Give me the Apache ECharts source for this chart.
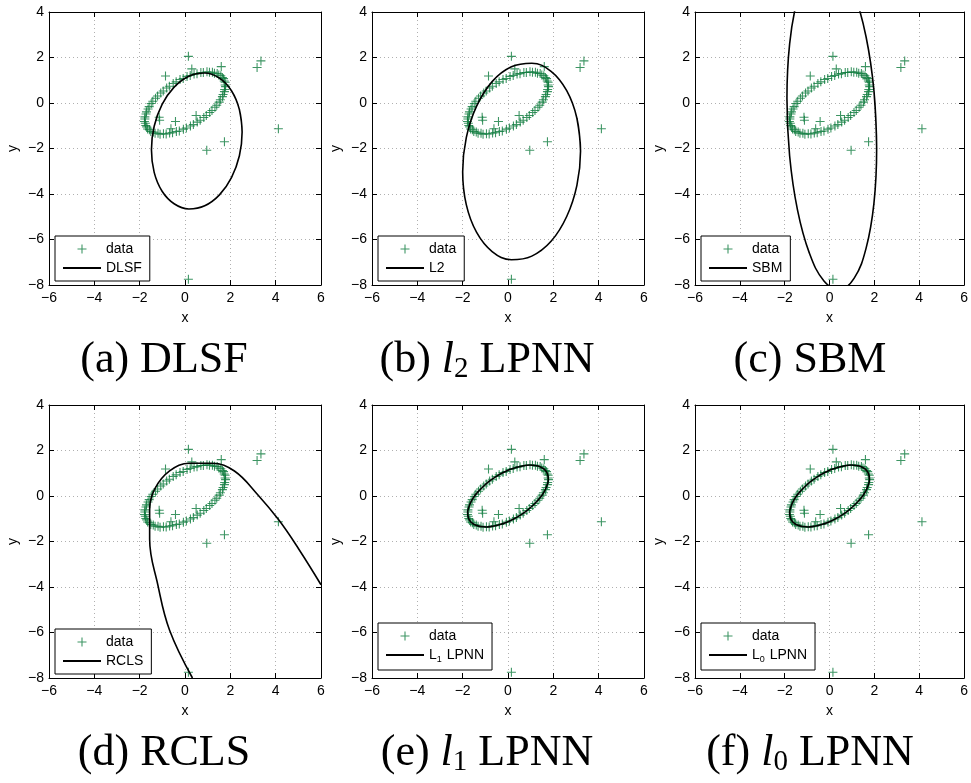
<!DOCTYPE html>
<html>
<head>
<meta charset="utf-8">
<script src="https://cdn.jsdelivr.net/npm/echarts@6/dist/echarts.min.js"></script>
<style>
  html, body { margin: 0; padding: 0; background: #fff; }
  #main { width: 971px; height: 783px; }
</style>
</head>
<body>
<div id="main"></div>
<script>
// points of the noisy ellipse (same data in all six panels)
var ringX = [1.70, 1.65, 1.58, 1.49, 1.42, 1.30, 1.21, 1.08, 0.97, 0.81, 0.70, 0.53, 0.40, 0.23, 0.09, -0.08, -0.22, -0.39,
  -0.52, -0.69, -0.81, -0.96, -1.07, -1.21, -1.30, -1.42, -1.49, -1.58, -1.63, -1.70, -1.72, -1.77, -1.77, -1.79, -1.75, -1.73,
  -1.69, -1.65, -1.57, -1.51, -1.40, -1.32, -1.19, -1.10, -0.95, -0.83, -0.68, -0.55, -0.38, -0.25, -0.07, 0.06, 0.24, 0.37,
  0.54, 0.67, 0.83, 0.94, 1.09, 1.19, 1.32, 1.40, 1.51, 1.56, 1.65, 1.68, 1.74, 1.75, 1.79, 1.77, 1.77, 1.73];
var ringY = [1.07, 1.12, 1.20, 1.23, 1.30, 1.31, 1.35, 1.35, 1.37, 1.34, 1.34, 1.29, 1.27, 1.21, 1.17, 1.08, 1.03, 0.93,
  0.86, 0.74, 0.66, 0.53, 0.44, 0.31, 0.21, 0.08, -0.02, -0.16, -0.26, -0.39, -0.48, -0.61, -0.70, -0.81, -0.89, -0.99,
  -1.05, -1.14, -1.18, -1.25, -1.28, -1.33, -1.33, -1.37, -1.35, -1.36, -1.32, -1.31, -1.25, -1.23, -1.15, -1.10, -1.01, -0.95,
  -0.84, -0.76, -0.64, -0.55, -0.42, -0.33, -0.19, -0.10, 0.04, 0.14, 0.28, 0.37, 0.50, 0.59, 0.72, 0.79, 0.91, 0.97];
// outliers
var outX = [0.15, 0.30, 1.60, 3.18, 3.35, 4.12, 1.74, 0.96, 0.15, -0.86, -1.14, -1.12, -0.42, 0.49, -0.62];
var outY = [2.05, 1.50, 1.60, 1.56, 1.85, -1.13, -1.70, -2.08, -7.75, 1.19, -0.63, -0.76, -0.81, -0.55, -1.13];

// fitted curves
var dlsfX = [2.52, 2.40, 2.05, 1.52, 0.87, 0.17, -0.48, -1.01, -1.36, -1.48, -1.36, -1.01, -0.48, 0.17, 0.87, 1.52, 2.05, 2.40, 2.52, 2.40];
var dlsfY = [-1.28, -0.29, 0.54, 1.09, 1.32, 1.18, 0.70, -0.06, -1.02, -2.06, -3.05, -3.88, -4.43, -4.66, -4.52, -4.04, -3.28, -2.32, -1.28, -0.29];
var l2X = [3.20, 3.04, 2.59, 1.90, 1.05, 0.15, -0.70, -1.39, -1.84, -2.00, -1.84, -1.39, -0.70, 0.15, 1.05, 1.90, 2.59, 3.04, 3.20, 3.04];
var l2Y = [-2.12, -0.67, 0.54, 1.39, 1.75, 1.59, 0.94, -0.15, -1.52, -3.02, -4.47, -5.68, -6.53, -6.89, -6.73, -6.08, -4.99, -3.62, -2.12, -0.67];
var sbmX = [2.10, 1.98, 1.63, 1.10, 0.45, -0.25, -0.90, -1.43, -1.78, -1.90, -1.78, -1.43, -0.90, -0.25, 0.45, 1.10, 1.63, 1.98, 2.10, 1.98];
var sbmY = [-2.00, 0.53, 2.90, 4.80, 6.02, 6.40, 5.90, 4.58, 2.60, 0.20, -2.33, -4.70, -6.60, -7.82, -8.20, -7.70, -6.38, -4.40, -2.00, 0.53];
var rclsX = [0.33, -0.68, -1.20, -1.56, -1.56, -1.34, -0.68, 0.20, 1.20, 2.18, 3.19, 4.15, 5.03, 6.00];
var rclsY = [-8.00, -5.90, -3.90, -1.90, -0.60, 0.30, 1.10, 1.44, 1.44, 1.10, 0.08, -1.07, -2.35, -3.90];
var lpnnX = [1.70, 1.58, 1.41, 1.20, 0.96, 0.69, 0.39, 0.08, -0.23, -0.53, -0.82, -1.08, -1.31, -1.50, -1.64, -1.73, -1.78, -1.76,
  -1.70, -1.58, -1.41, -1.20, -0.96, -0.69, -0.39, -0.08, 0.23, 0.53, 0.82, 1.08, 1.31, 1.50, 1.64, 1.73, 1.78, 1.76, 1.70, 1.58];
var lpnnY = [1.06, 1.19, 1.29, 1.34, 1.36, 1.33, 1.26, 1.16, 1.02, 0.85, 0.65, 0.43, 0.20, -0.03, -0.27, -0.49, -0.71, -0.90,
  -1.06, -1.19, -1.29, -1.34, -1.36, -1.33, -1.26, -1.16, -1.02, -0.85, -0.65, -0.43, -0.20, 0.03, 0.27, 0.49, 0.71, 0.90, 1.06, 1.19];

var fitNames = ['DLSF', 'L2', 'SBM', 'RCLS', 'L1 LPNN', 'L0 LPNN'];
var fitX = [dlsfX, l2X, sbmX, rclsX, lpnnX, lpnnX];
var fitY = [dlsfY, l2Y, sbmY, rclsY, lpnnY, lpnnY];
var captions = ['(a) DLSF', '(b) {i|l}{s|2} LPNN', '(c) SBM', '(d) RCLS', '(e) {i|l}{s|1} LPNN', '(f) {i|l}{s|0} LPNN'];

var colLeft = [49, 372, 695];
var rowTop = [12, 405];
var gw = 272, gh = 273;

var green = '#0c7a3c';
var plus = 'path://M0,4.4H10V5.6H0Z M4.4,0H5.6V10H4.4Z';
var dash = 'path://M0,0H40V2.3H0Z';
var sans = 'Liberation Sans';

function pairs(xs, ys) {
  return xs.map(function (x, i) { return [x, ys[i]]; });
}

function minus(v) { return String(v).replace('-', '\u2212'); }

function mkLine() { return { show: true, onZero: false, lineStyle: { color: '#000', width: 1 } }; }
function mkTick() { return { show: true, inside: true, length: 5, lineStyle: { color: '#000' } }; }
function mkLabel(m) { return { margin: m, color: '#000', fontFamily: sans, fontSize: 14, formatter: minus }; }
function mkSplit() { return { show: true, lineStyle: { color: '#b0b0b0', type: [1, 3], width: 1 } }; }
function mkName() { return { color: '#000', fontFamily: sans, fontSize: 14 }; }

function legendFmt(n) {
  var m = /^L(\d) (.*)$/.exec(n);
  return m ? '{t|L}{s|' + m[1] + '}{t| ' + m[2] + '}' : '{t|' + n + '}';
}

var grids = [], xAxes = [], yAxes = [], series = [], legends = [], graphics = [];

for (var i = 0; i < 6; i++) {
  var row = Math.floor(i / 3), col = i % 3;
  var gLeft = colLeft[col], gTop = rowTop[row];
  grids.push({ left: gLeft, top: gTop, width: gw, height: gh });

  xAxes.push({
    gridIndex: i, type: 'value', min: -6, max: 6, interval: 2, position: 'bottom',
    axisLine: mkLine(), axisTick: mkTick(), axisLabel: mkLabel(6), splitLine: mkSplit(),
    name: 'x', nameLocation: 'middle', nameGap: 26, nameTextStyle: mkName()
  });
  xAxes.push({
    gridIndex: i, type: 'value', min: -6, max: 6, interval: 2, position: 'top',
    axisLine: mkLine(), axisTick: mkTick(), axisLabel: { show: false }, splitLine: { show: false }
  });
  yAxes.push({
    gridIndex: i, type: 'value', min: -8, max: 4, interval: 2, position: 'left',
    axisLine: mkLine(), axisTick: mkTick(), axisLabel: mkLabel(5), splitLine: mkSplit(),
    name: 'y', nameLocation: 'middle', nameGap: 29, nameTextStyle: mkName()
  });
  yAxes.push({
    gridIndex: i, type: 'value', min: -8, max: 4, interval: 2, position: 'right',
    axisLine: mkLine(), axisTick: mkTick(), axisLabel: { show: false }, splitLine: { show: false }
  });

  series.push({
    name: 'data', type: 'scatter', xAxisIndex: 2 * i, yAxisIndex: 2 * i,
    data: pairs(ringX, ringY).concat(pairs(outX, outY)), symbol: plus, symbolSize: 9,
    itemStyle: { color: green, opacity: 0.8 }, silent: true, z: 2
  });
  series.push({
    name: fitNames[i], type: 'line', xAxisIndex: 2 * i, yAxisIndex: 2 * i,
    data: pairs(fitX[i], fitY[i]), symbol: 'none', showSymbol: false, smooth: 0.4,
    lineStyle: { color: '#000', width: 1.6 }, itemStyle: { color: '#000' }, silent: true, z: 3
  });

  legends.push({
    data: [
      { name: 'data', icon: plus, itemStyle: { color: green } },
      { name: fitNames[i], icon: dash, itemStyle: { color: '#000' } }
    ],
    orient: 'vertical', left: gLeft + 6, top: gTop + 224 - (i >= 4 ? 6 : 0),
    padding: [6, 8, 6, 8], itemGap: 5, itemWidth: 38, itemHeight: 9,
    borderColor: '#000', borderWidth: 1, borderRadius: 0, backgroundColor: '#fff',
    selectedMode: false, formatter: legendFmt,
    textStyle: {
      color: '#000', fontFamily: sans, fontSize: 14,
      rich: { t: { fontFamily: sans, fontSize: 14, color: '#000' },
              s: { fontFamily: sans, fontSize: 9, color: '#000', padding: [9, 1, 0, 0] } }
    }
  });

  graphics.push({
    type: 'text', x: gLeft + gw / 2 - 21, y: gTop + 348,
    style: {
      text: captions[i], fill: '#000', fontFamily: 'Liberation Serif', fontSize: 44,
      align: 'center', verticalAlign: 'middle',
      rich: {
        i: { fontFamily: 'Liberation Serif', fontSize: 44, fontStyle: 'italic', fill: '#000' },
        s: { fontFamily: 'Liberation Serif', fontSize: 29, fill: '#000', padding: [18, 0, 0, 0] }
      }
    }
  });
}

var chart = echarts.init(document.getElementById('main'));
chart.setOption({
  animation: false,
  backgroundColor: '#fff',
  grid: grids,
  xAxis: xAxes,
  yAxis: yAxes,
  legend: legends,
  series: series,
  graphic: graphics
});
</script>
</body>
</html>
